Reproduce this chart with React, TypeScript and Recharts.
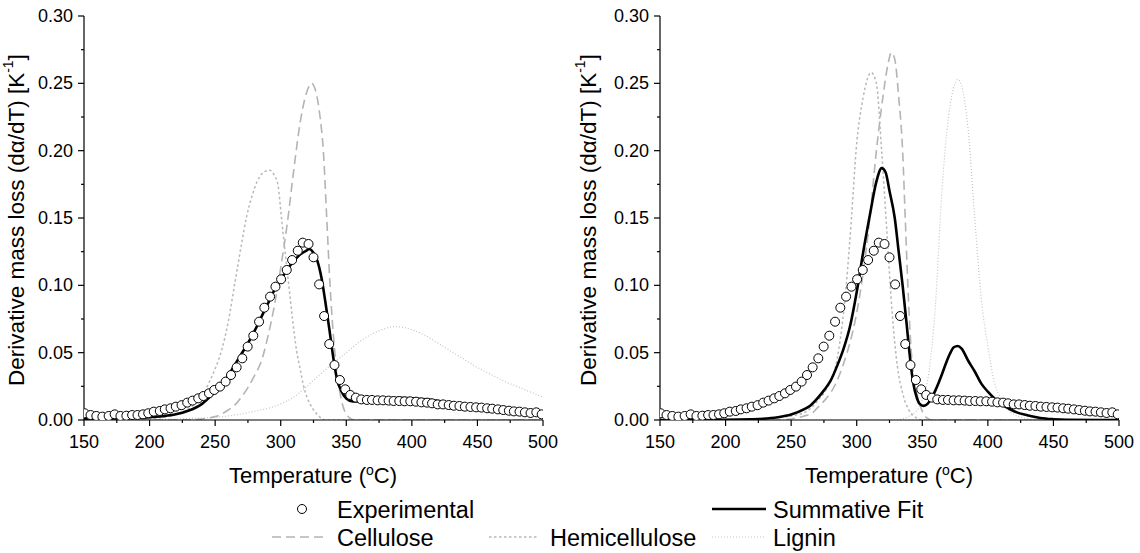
import React from 'react';
import { ComposedChart, Line, Scatter, XAxis, YAxis } from 'recharts';

// temperature ticks (every 25 °C, labels on every 50)
const xTicks = [150, 175, 200, 225, 250, 275, 300, 325, 350, 375, 400, 425, 450, 475, 500];
const yTicks = [0, 0.025, 0.05, 0.075, 0.1, 0.125, 0.15, 0.175, 0.2, 0.225, 0.25, 0.275, 0.3];

// measured DTG points [T, dα/dT] – same in both panels
const experimental = [
  [150.5, 0.005], [155, 0.0037], [159.4, 0.003], [164, 0.0025], [168.8, 0.003], [173.4, 0.0042],
  [177.8, 0.003], [182.3, 0.0032], [186.7, 0.0037], [190.8, 0.0037], [195, 0.0042], [199, 0.005],
  [203.2, 0.0062], [207.8, 0.0067], [211.6, 0.0079], [216, 0.0087], [220, 0.0099], [224.4, 0.011],
  [228.7, 0.0129], [232.8, 0.0144], [237.1, 0.0161], [241, 0.0178], [245.3, 0.0198], [249.3, 0.0223],
  [253.7, 0.0248], [258, 0.0285], [262.1, 0.0334], [266.4, 0.0391], [270.7, 0.0458], [274.8, 0.0545],
  [279.1, 0.0626], [283.5, 0.073], [287.5, 0.0834], [291.9, 0.0916], [296, 0.099], [300.3, 0.1045],
  [304.6, 0.1114], [308.7, 0.1188], [313, 0.1257], [316.8, 0.1317], [321.2, 0.1307], [325, 0.1208],
  [329.3, 0.1007], [333.1, 0.0772], [337, 0.0564], [341, 0.0408], [345.1, 0.0297], [349.2, 0.0228],
  [353, 0.0186], [357.3, 0.0166], [361.4, 0.0153], [365.7, 0.0149], [369.6, 0.0149], [373.9, 0.0146],
  [378, 0.0146], [382.3, 0.0144], [386.1, 0.0141], [390.4, 0.0141], [394.5, 0.0139], [398.8, 0.0139],
  [403.2, 0.0136], [407.3, 0.0131], [411.6, 0.0129], [415.4, 0.0124], [419.7, 0.0116], [423.8, 0.0116],
  [428.1, 0.0111], [432, 0.0106], [436.3, 0.0104], [440.4, 0.0099], [444.7, 0.0097], [449, 0.0094],
  [453.1, 0.0092], [457.4, 0.0087], [461.3, 0.0084], [465.6, 0.0079], [469.7, 0.0074], [474, 0.0069],
  [477.8, 0.0064], [482.1, 0.0062], [486.2, 0.0057], [490.5, 0.0052], [494.9, 0.0057], [499, 0.0042],
];

// left panel fits
const fitA = [
  [150, 0.0005], [160, 0.0007], [170, 0.001], [180, 0.0013], [190, 0.0017], [200, 0.002], [210, 0.0028],
  [220, 0.0042], [230, 0.007], [240, 0.012], [250, 0.021], [255, 0.026], [260, 0.033], [265, 0.041],
  [270, 0.049], [275, 0.057], [280, 0.066], [285, 0.076], [290, 0.086], [295, 0.096], [300, 0.104],
  [305, 0.112], [310, 0.118], [315, 0.123], [320, 0.126], [322, 0.127], [325, 0.124], [328, 0.118],
  [331, 0.106], [334, 0.088], [337, 0.068], [340, 0.047], [343, 0.03], [346, 0.022], [350, 0.016],
  [355, 0.0138], [360, 0.014], [370, 0.0152], [380, 0.016], [390, 0.0165], [400, 0.0162], [410, 0.0153],
  [420, 0.014], [430, 0.0122], [440, 0.0107], [450, 0.009], [460, 0.0078], [470, 0.0065], [480, 0.005],
  [490, 0.0043], [500, 0.0035],
];
const celluloseA = [
  [150, 0], [200, 0], [230, 0.0002], [240, 0.0008], [245, 0.0015], [250, 0.0025], [255, 0.0045],
  [260, 0.0074], [265, 0.011], [270, 0.017], [275, 0.024], [280, 0.033], [285, 0.043], [290, 0.061],
  [295, 0.084], [300, 0.113], [305, 0.146], [310, 0.186], [315, 0.222], [320, 0.244], [323.5, 0.25],
  [327, 0.243], [330, 0.225], [332.5, 0.2], [335, 0.152], [337.5, 0.102], [340, 0.065], [343, 0.035],
  [346, 0.016], [349, 0.006], [352, 0.002], [356, 0], [500, 0],
];
const hemiA = [
  [150, 0], [190, 0.0005], [200, 0.001], [210, 0.002], [220, 0.0042], [228, 0.0074], [235, 0.012],
  [240, 0.017], [245, 0.027], [250, 0.038], [255, 0.052], [260, 0.073], [265, 0.1015], [270, 0.13],
  [274, 0.151], [278, 0.166], [282, 0.177], [287, 0.184], [291.5, 0.1855], [295, 0.182], [298, 0.174],
  [300.5, 0.151], [303, 0.128], [306, 0.1015], [309, 0.075], [312, 0.052], [315, 0.037], [317, 0.027],
  [320, 0.017], [324, 0.009], [328, 0.004], [334, 0], [500, 0],
];
const ligninA = [
  [150, 0], [200, 0.0003], [220, 0.0007], [240, 0.0015], [250, 0.002], [260, 0.003], [270, 0.0045],
  [280, 0.0065], [290, 0.0085], [300, 0.012], [310, 0.017], [320, 0.025], [330, 0.034], [340, 0.042],
  [350, 0.05], [360, 0.058], [370, 0.064], [380, 0.068], [386, 0.0693], [392, 0.069], [400, 0.067],
  [410, 0.063], [420, 0.057], [430, 0.051], [440, 0.045], [450, 0.039], [460, 0.034], [470, 0.029],
  [480, 0.025], [490, 0.021], [500, 0.017],
];

// right panel fits
const fitB = [
  [150, 0], [200, 0.0001], [220, 0.0005], [240, 0.002], [250, 0.004], [260, 0.008], [265, 0.011],
  [270, 0.016], [275, 0.022], [280, 0.029], [285, 0.04], [290, 0.053], [295, 0.07], [300, 0.095],
  [305, 0.125], [310, 0.152], [315, 0.177], [319, 0.187], [322, 0.184], [325, 0.17], [329, 0.15],
  [332, 0.125], [335, 0.1], [338, 0.072], [340, 0.052], [343, 0.028], [346, 0.016], [348, 0.012],
  [351, 0.0105], [354, 0.012], [357, 0.016], [360, 0.022], [365, 0.034], [368, 0.042], [371, 0.049],
  [374, 0.054], [377, 0.055], [380, 0.053], [385, 0.044], [390, 0.036], [395, 0.027], [400, 0.021],
  [405, 0.016], [410, 0.012], [415, 0.009], [420, 0.0065], [430, 0.0035], [440, 0.0015], [450, 0.0006],
  [460, 0.0002], [500, 0],
];
const celluloseB = [
  [150, 0], [240, 0], [250, 0.0008], [260, 0.003], [266, 0.005], [270, 0.009], [275, 0.014], [280, 0.02],
  [284, 0.027], [290, 0.042], [295, 0.058], [299.5, 0.077], [305, 0.11], [310, 0.15], [315, 0.2],
  [320, 0.24], [324, 0.265], [326.5, 0.273], [329, 0.268], [332, 0.24], [335, 0.2], [337, 0.15],
  [339, 0.1], [341.5, 0.052], [344, 0.03], [348, 0.012], [353, 0.002], [358, 0], [500, 0],
];
const hemiB = [
  [150, 0], [220, 0.0005], [230, 0.0012], [240, 0.002], [250, 0.003], [261, 0.006], [270, 0.014],
  [279, 0.027], [285, 0.045], [292, 0.1], [296, 0.15], [299.5, 0.2], [305, 0.24], [311, 0.258],
  [315, 0.25], [319, 0.2], [323, 0.14], [327, 0.08], [331, 0.04], [335, 0.02], [340, 0.007], [345, 0.002],
  [350, 0], [500, 0],
];
const ligninB = [
  [150, 0], [330, 0], [335, 0.001], [340, 0.003], [345, 0.006], [350, 0.015], [355, 0.035], [360, 0.085],
  [365, 0.17], [370, 0.225], [375, 0.25], [377, 0.253], [380, 0.248], [385, 0.215], [390, 0.15],
  [395, 0.09], [400, 0.055], [405, 0.028], [410, 0.016], [415, 0.008], [420, 0.004], [430, 0.001],
  [440, 0], [500, 0],
];

const FONT = '"Liberation Sans", Arial, sans-serif';
const toPts = (arr: number[][]) => arr.map(([t, v]) => ({ t, v }));

const XTick = (props: any) => {
  const { x, y, payload } = props;
  const major = payload.value % 50 === 0;
  return (
    <g>
      <line x1={x} x2={x} y1={y} y2={y + (major ? 6 : 3)} stroke="#000" strokeWidth={1.2} />
      {major && (
        <text x={x} y={y + 28} textAnchor="middle" fontSize={18} fontFamily={FONT} fill="#000">
          {payload.value}
        </text>
      )}
    </g>
  );
};

const YTick = (props: any) => {
  const { x, y, payload } = props;
  const major = Math.round(payload.value * 1000) % 50 === 0;
  return (
    <g>
      <line x1={x} x2={x - (major ? 6 : 3)} y1={y} y2={y} stroke="#000" strokeWidth={1.2} />
      {major && (
        <text x={x - 11} y={y + 6} textAnchor="end" fontSize={18} fontFamily={FONT} fill="#000">
          {payload.value.toFixed(2)}
        </text>
      )}
    </g>
  );
};

const Circle = (props: any) => (
  <circle cx={props.cx} cy={props.cy} r={4.5} fill="#fff" stroke="#000" strokeWidth={1} />
);

interface PanelProps {
  left: number;
  fit: number[][];
  cellulose: number[][];
  hemi: number[][];
  lignin: number[][];
}

const Panel: React.FC<PanelProps> = ({ left, fit, cellulose, hemi, lignin }) => (
  <div style={{ position: 'absolute', left, top: 0 }}>
    <ComposedChart width={560} height={470} margin={{ top: 16, right: 17, bottom: 20, left: 0 }}>
      <XAxis
        dataKey="t"
        type="number"
        domain={[150, 500]}
        ticks={xTicks}
        interval={0}
        tickSize={0}
        tickMargin={0}
        tick={<XTick />}
        height={30}
        axisLine={{ stroke: '#000', strokeWidth: 1.2 }}
        allowDataOverflow
      />
      <YAxis
        dataKey="v"
        type="number"
        domain={[0, 0.3]}
        ticks={yTicks}
        interval={0}
        tickSize={0}
        tickMargin={0}
        tick={<YTick />}
        width={84}
        axisLine={{ stroke: '#000', strokeWidth: 1.2 }}
        allowDataOverflow
      />
      <Line data={toPts(lignin)} dataKey="v" type="monotone" stroke="#c4c4c4" strokeWidth={1.2}
        strokeDasharray="1 2" dot={false} isAnimationActive={false} />
      <Line data={toPts(hemi)} dataKey="v" type="monotone" stroke="#b8b8b8" strokeWidth={1.5}
        strokeDasharray="2.5 2.5" dot={false} isAnimationActive={false} />
      <Line data={toPts(cellulose)} dataKey="v" type="monotone" stroke="#b4b4b4" strokeWidth={1.6}
        strokeDasharray="9 5" dot={false} isAnimationActive={false} />
      <Scatter data={toPts(experimental)} dataKey="v" shape={<Circle />} isAnimationActive={false} />
      <Line data={toPts(fit)} dataKey="v" type="monotone" stroke="#000" strokeWidth={2.6}
        dot={false} isAnimationActive={false} />
    </ComposedChart>
  </div>
);

const yTitle = (cx: number) => (
  <text
    x={cx}
    y={220}
    transform={`rotate(-90, ${cx}, 220)`}
    textAnchor="middle"
    dominantBaseline="central"
    fontSize={22.5}
    fontFamily={FONT}
    fill="#000"
  >
    Derivative mass loss (dα/dT) [K<tspan dy={-8} fontSize={14}>-1</tspan>
    <tspan dy={8}>]</tspan>
  </text>
);

const xTitle = (cx: number) => (
  <text x={cx} y={483} textAnchor="middle" fontSize={22} fontFamily={FONT} fill="#000">
    Temperature (<tspan dy={-8} fontSize={14}>o</tspan>
    <tspan dy={8}>C)</tspan>
  </text>
);

const legendText = (x: number, y: number, label: string) => (
  <text x={x} y={y + 8.5} fontSize={23.5} fontFamily={FONT} fill="#000">
    {label}
  </text>
);

export default function App() {
  return (
    <div style={{ position: 'absolute', left: 0, top: 0, width: 1140, height: 553, background: '#fff', fontFamily: FONT }}>
      <Panel left={0} fit={fitA} cellulose={celluloseA} hemi={hemiA} lignin={ligninA} />
      <Panel left={576} fit={fitB} cellulose={celluloseB} hemi={hemiB} lignin={ligninB} />
      <svg width={1140} height={553} style={{ position: 'absolute', left: 0, top: 0, pointerEvents: 'none' }}>
        {yTitle(16)}
        {yTitle(588)}
        {xTitle(313)}
        {xTitle(889)}
        <circle cx={302} cy={509} r={4.5} fill="#fff" stroke="#000" strokeWidth={1} />
        {legendText(337, 509, 'Experimental')}
        <line x1={712} x2={766} y1={509} y2={509} stroke="#000" strokeWidth={2.6} />
        {legendText(773, 509, 'Summative Fit')}
        <line x1={272} x2={326} y1={537} y2={537} stroke="#b4b4b4" strokeWidth={1.6} strokeDasharray="9 5" />
        {legendText(337, 537, 'Cellulose')}
        <line x1={489} x2={537} y1={537} y2={537} stroke="#b8b8b8" strokeWidth={1.5} strokeDasharray="2.5 2.5" />
        {legendText(550, 537, 'Hemicellulose')}
        <line x1={712} x2={766} y1={537} y2={537} stroke="#c4c4c4" strokeWidth={1.2} strokeDasharray="1 2" />
        {legendText(773, 537, 'Lignin')}
      </svg>
    </div>
  );
}
